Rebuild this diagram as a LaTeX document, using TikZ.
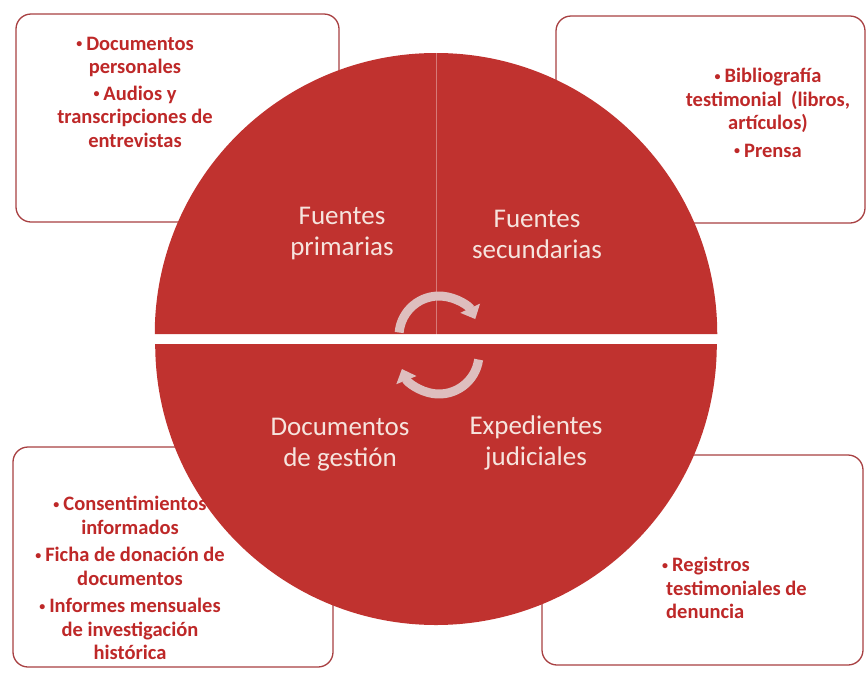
\documentclass[tikz,border=0pt]{standalone}
\usepackage{fontspec}
\setmainfont{Carlito}
\usepackage{tikz}
\usetikzlibrary{arrows.meta}
\usepackage{xcolor}
\definecolor{ured}{RGB}{192,50,47}
\definecolor{uborder}{RGB}{168,64,66}
\definecolor{utext}{RGB}{190,40,40}
\definecolor{ulight}{RGB}{246,228,222}
\definecolor{uarrow}{RGB}{222,190,190}

\newcommand{\bul}{\raisebox{0.12em}{\fontsize{12}{12}\selectfont•}\hspace{4pt}}

\tikzset{
	listbox/.style={draw=uborder, line width=1.3pt, fill=white, rounded corners=15pt},
	listtext/.style={text=utext, font=\fontsize{20.5}{23.5}\selectfont\bfseries, align=center, inner sep=0pt},
	quarter/.style={text=ulight, font=\fontsize{27}{31}\selectfont, align=center, inner sep=0pt},
	cyclearrow/.style={line width=9pt, color=uarrow, -{Triangle[width=21pt,length=12pt]}}
}

\begin{document}
\begin{tikzpicture}[x=1pt,y=-1pt]
	\useasboundingbox (0,0) rectangle (867,673);
	
	% boxes behind the circle
	\draw[listbox] (16,14) rectangle (339,222);
	\draw[listbox] (556,16) rectangle (865,223);
	\draw[listbox] (13,447) rectangle (333,667);
	\draw[listbox] (542,455) rectangle (863,665);
	
	% the four quarters
	\fill[ured] (435.75,334) -- (154.75,334) arc (180:270:281) -- cycle;
	\fill[ured] (436.25,334) -- (436.25,53) arc (270:360:281) -- cycle;
	\fill[ured] (436.2,344) -- (155.2,344) arc (180:90:281) -- cycle;
	\fill[ured] (435.8,344) -- (716.8,344) arc (0:90:281) -- cycle;
	
	% cycle arrows
	\draw[cyclearrow] (439,336) ++(185:40) arc (185:335:40);
	\draw[cyclearrow] (439,354) ++(8:40) arc (8:158:40);
	
	\node[quarter] (fprim) at (342,234) {Fuentes\\primarias};
	\node[quarter] (fsec) at (537,234) {Fuentes\\secundarias};
	\node[quarter] (dgest) at (340,445) {Documentos\\de gestión};
	\node[quarter] (ejud) at (536,443) {Expedientes\\judiciales};
	
	\node[listtext] (tllist) at (135,92) {\bul Documentos\\personales\\[3pt]\bul Audios y\\transcripciones de\\entrevistas};
	\node[listtext] (trlist) at (768,113) {\bul Bibliografía\\testimonial~ (libros,\\artículos)\\[4pt]\bul Prensa};
	\node[listtext] (bllist) at (130,578) {\bul Consentimientos\\informados\\[4pt]\bul Ficha de donación de\\documentos\\[4pt]\bul Informes mensuales\\de investigación\\histórica};
	\node[listtext, align=left, anchor=west] (brlist) at (662,588) {\bul Registros\\\hspace{4pt}testimoniales de\\\hspace{4pt}denuncia};
	
\end{tikzpicture}
\end{document}
